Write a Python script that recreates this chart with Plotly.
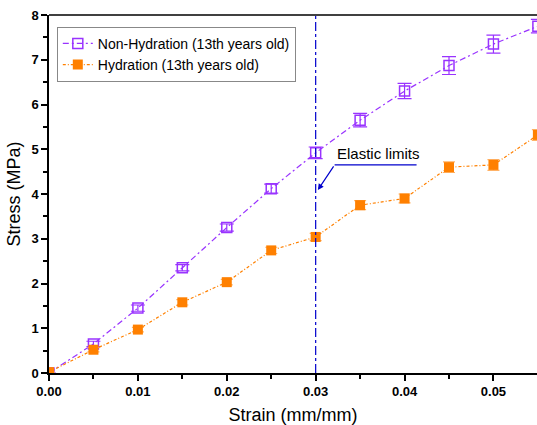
import plotly.graph_objects as go

strain = [0.0, 0.005, 0.01, 0.015, 0.02, 0.025, 0.03, 0.035, 0.04, 0.045, 0.05, 0.055]
non_hyd = [0.0, 0.65, 1.45, 2.35, 3.25, 4.12, 4.92, 5.65, 6.30, 6.87, 7.35, 7.75]
non_hyd_err = [0.0, 0.06, 0.07, 0.07, 0.08, 0.10, 0.13, 0.15, 0.17, 0.20, 0.20, 0.15]
hyd = [0.02, 0.52, 0.97, 1.58, 2.03, 2.74, 3.04, 3.75, 3.90, 4.60, 4.65, 5.32]
hyd_err = [0.0, 0.05, 0.05, 0.06, 0.06, 0.07, 0.08, 0.10, 0.10, 0.12, 0.12, 0.12]

purple = "#9933FF"
orange = "#FF8000"
blue = "#0000CC"

fig = go.Figure()
fig.add_trace(go.Scatter(
    x=strain, y=non_hyd, mode="lines+markers", name="Non-Hydration (13th years old)",
    line=dict(color=purple, width=1.2, dash="6px,3px,2px,3px"),
    marker=dict(symbol="square-open", size=10, color=purple, line=dict(width=1.5, color=purple)),
    error_y=dict(type="data", array=non_hyd_err, color=purple, thickness=1.2, width=7),
))
fig.add_trace(go.Scatter(
    x=strain, y=hyd, mode="lines+markers", name="Hydration (13th years old)",
    line=dict(color=orange, width=1.2, dash="3px,2px,1px,2px"),
    marker=dict(symbol="square", size=10, color=orange, line=dict(width=0)),
    error_y=dict(type="data", array=hyd_err, color="#FFB266", thickness=1.2, width=6),
))

fig.add_shape(type="line", xref="x", yref="paper", x0=0.03, x1=0.03, y0=0, y1=1,
              line=dict(color=blue, width=1.2, dash="dashdot"))
fig.add_shape(type="line", xref="x", yref="y", x0=0.03213, x1=0.04135, y0=4.65, y1=4.65,
              line=dict(color=blue, width=1.2))
fig.add_annotation(x=0.03213, y=4.66, xref="x", yref="y", text="Elastic limits",
                   showarrow=False, xanchor="left", yanchor="bottom",
                   font=dict(family="Liberation Sans, Arial", size=15, color="black"))
fig.add_annotation(x=0.03025, y=4.09, ax=0.03213, ay=4.65, xref="x", yref="y",
                   axref="x", ayref="y", text="", showarrow=True,
                   arrowhead=2, arrowsize=1, arrowwidth=1.2, arrowcolor=blue)

axis_common = dict(
    showline=True, linecolor="black", linewidth=1.5, mirror=False,
    ticks="outside", ticklen=6, tickwidth=1.5, tickcolor="black",
    showgrid=False, zeroline=False,
    tickfont=dict(family="Liberation Sans, Arial", size=13, color="black", weight="bold"),
    title_font=dict(family="Liberation Sans, Arial", size=18, color="black"),
)
fig.update_xaxes(**axis_common, range=[0, 0.0549], dtick=0.01, tickformat=".2f",
                 minor=dict(dtick=0.005, ticks="outside", ticklen=4, tickwidth=1.5, tickcolor="black"),
                 title_text="Strain (mm/mm)", title_standoff=10)
fig.update_yaxes(**axis_common, range=[0, 8], dtick=1,
                 minor=dict(dtick=0.5, ticks="outside", ticklen=4, tickwidth=1.5, tickcolor="black"),
                 title_text="Stress (MPa)", title_standoff=6)
fig.add_shape(type="line", xref="paper", yref="paper", x0=0, x1=1, y0=1, y1=1,
              line=dict(color="black", width=1.5))

fig.update_layout(
    width=537, height=425,
    margin=dict(l=49, r=0, t=15, b=52),
    plot_bgcolor="white", paper_bgcolor="white",
    showlegend=True,
    legend=dict(x=0.016, y=0.967, xanchor="left", yanchor="top",
                bordercolor="#888888", borderwidth=1, bgcolor="white",
                font=dict(family="Liberation Sans, Arial", size=14, color="black"),
                tracegroupgap=0, itemwidth=30),
)
fig.write_html("out.html")
